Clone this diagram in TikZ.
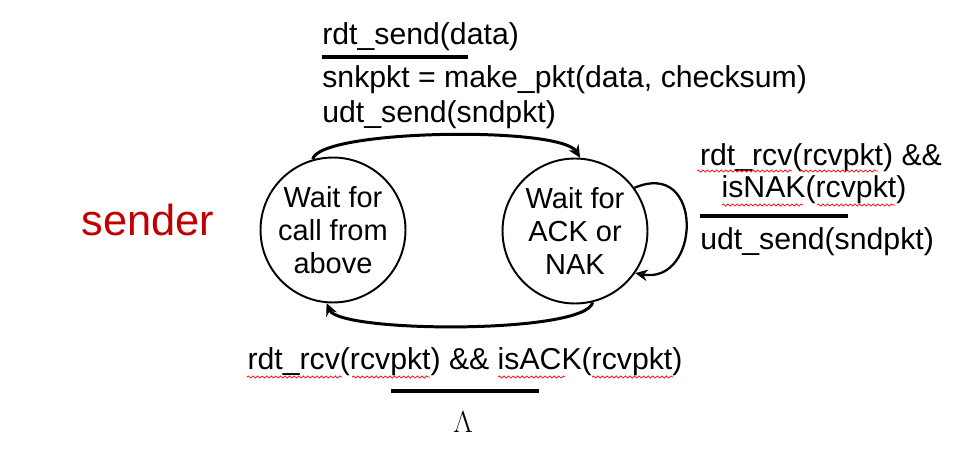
\documentclass[tikz,border=0pt]{standalone}
\usepackage{fontspec}
\setmainfont{Liberation Sans}
\usepackage{tikz}
\usetikzlibrary{arrows.meta,decorations.pathmorphing,calc}
\definecolor{senderred}{RGB}{192,0,0}
\newcommand{\lblfont}{\fontsize{17.2}{21}\selectfont}

\begin{document}
\begin{tikzpicture}[x=0.02cm,y=-0.02cm,
    state/.style={circle,draw,line width=1.1pt,minimum size=2.9cm,inner sep=0pt,
      align=center,font=\fontsize{16.5}{18.7}\selectfont},
    trans/.style={line width=1.7pt,-{Stealth[length=7pt,width=6.5pt]}},
    evbar/.style={line width=2pt},
    lbl/.style={inner sep=0pt,font=\lblfont},
    spell/.style={red,line width=0.4pt,decorate,
      decoration={snake,amplitude=0.6pt,segment length=2.6pt}}]
  \useasboundingbox (0,0) rectangle (968,456);

  % Title
  \node[text=senderred,font=\fontsize{24.7}{28}\selectfont] (sender) at (148,220) {sender};

  % States
  \node[state] (wait) at (333,230) {Wait for\\call from\\above};
  \node[state] (ack) at (575,231) {Wait for\\ACK or\\NAK};

  % Transitions
  \draw[trans] (wait.106) .. controls +(5,-30) and +(-20,-32) .. (ack.86);
  \draw[trans] (ack.-76) .. controls +(-7,32) and +(13,30) .. (wait.-95);
  \draw[trans,line width=1.3pt] (ack.36) .. controls +(70,-30) and +(66,12) .. (ack.-35);

  % Top label
  \node[lbl,anchor=west] (sendev) at (322,37) {rdt\_send(data)};
  \draw[evbar] (322,57) -- (468,57);
  \node[lbl,anchor=west] (mkpkt) at (322,80) {snkpkt = make\_pkt(data, checksum)};
  \node[lbl,anchor=west] (udtsend) at (322,115) {udt\_send(sndpkt)};

  % Self-loop label
  \node[lbl] (nakev) at (821,158) {rdt\_rcv(rcvpkt) \&\&};
  \node[lbl] (isnak) at (814,190) {isNAK(rcvpkt)};
  \draw[evbar] (700,216) -- (848,216);
  \node[lbl,anchor=west] (resend) at (700,242) {udt\_send(sndpkt)};
  \draw[spell] (697,171) -- (792,171);
  \draw[spell] (800,171) -- (878,171);
  \draw[spell] (722,205) -- (803,205);
  \draw[spell] (817,205) -- (895,205);

  % Bottom label
  \node[lbl] (ackev) at (465,362) {rdt\_rcv(rcvpkt) \&\& isACK(rcvpkt)};
  \draw[evbar] (391,391) -- (539,391);
  \node[inner sep=0pt,font=\fontsize{16}{18}\selectfont] (noact) at (463,422) {$\Lambda$};
  \draw[spell] (247,377) -- (342,377);
  \draw[spell] (352,377) -- (430,377);
  \draw[spell] (498,377) -- (565,377);
  \draw[spell] (592,377) -- (673,377);
\end{tikzpicture}
\end{document}
